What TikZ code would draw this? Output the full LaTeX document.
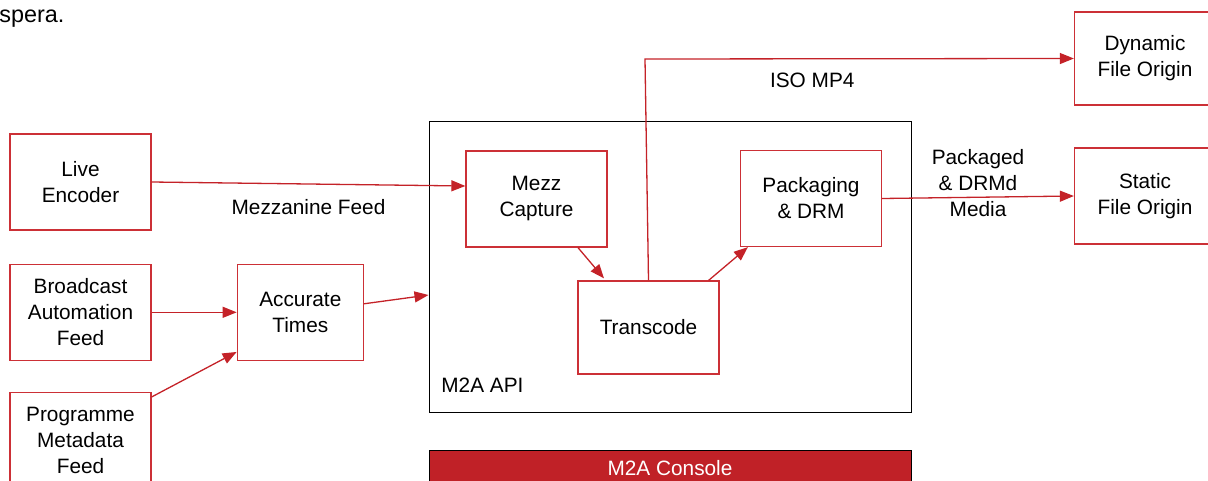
\documentclass[tikz,border=0pt]{standalone}
\usepackage{fontspec}
\setmainfont{Liberation Sans}
\usetikzlibrary{positioning,arrows.meta}

\definecolor{boxred}{RGB}{204,48,54}
\definecolor{linered}{RGB}{196,34,40}
\definecolor{consolered}{RGB}{192,33,39}

\begin{document}
\begin{tikzpicture}[x=0.5pt, y=-0.5pt, nodes = {align = center},
    font=\fontsize{10.4}{13}\selectfont,
    box/.style={draw=boxred, line width=0.65pt, minimum width=70.5pt, minimum height=48pt},
    flow/.style={draw=linered, line width=0.65pt, -{Triangle[length=7pt,width=5.5pt]}}]
    \useasboundingbox (0,0) rectangle (1208,481);

    \node (fragment) [anchor=base west, inner sep=0pt, font=\fontsize{11.7}{14}\selectfont] at (-1,23) {spera.};

    % sources on the left
    \node (live) [box] at (80.5,182) {Live\\Encoder};
    \node (broadcast) [box, below=16.5pt of live] {Broadcast\\Automation\\Feed};
    \node (programme) [box, below=15.5pt of broadcast] {Programme\\Metadata\\Feed};
    \node (accurate) [box, minimum width=63pt, right=42.5pt of broadcast] {Accurate\\Times};

    % M2A API
    \node (api) [draw=black, line width=0.5pt, minimum width=241pt, minimum height=145.5pt] at (670,266.5) {};
    \node (apilabel) [anchor=west, inner sep=0pt] at (441,385.5) {M2A API};
    \node (mezz) [box] at (536.5,199) {Mezz\\Capture};
    \node (transcode) [box, minimum height=46.5pt] at (648.5,327.5) {Transcode};
    \node (pack) [box] at (811,198.5) {Packaging\\\& DRM};
    \node (console) [draw=black, line width=0.5pt, fill=consolered, text=white, minimum width=241pt, minimum height=18pt, below=18.5pt of api] {M2A Console};

    % origins
    \node (dynamic) [box, minimum height=46.5pt] at (1145,58.5) {Dynamic\\File Origin};
    \node (static) [box] at (1145,196) {Static\\File Origin};
    \coordinate (isobend) at (645,59);

    \draw[flow] (live.east) -- node[below=4pt] {Mezzanine Feed} ([yshift=6.5pt]mezz.west);
    \draw[flow] (broadcast) -- (accurate);
    \draw[flow] ([yshift=-2.5pt]programme.north east) -- ([yshift=4.5pt]accurate.south west);
    \draw[flow] ([yshift=4.25pt]accurate.east) -- ([yshift=-14.25pt]api.west);
    \draw[flow] ([xshift=20.75pt]mezz.south) -- ([xshift=-22.25pt,yshift=1pt]transcode.north);
    \draw[flow] ([xshift=-5.5pt]transcode.north east) -- ([xshift=4pt]pack.south west);
    \draw[flow] (transcode.north) -- (isobend) -- node[below=3.25pt, pos=0.39] {ISO MP4} (dynamic.west);
    \draw[flow] (pack.east) -- node[yshift=7.25pt] {Packaged\\\& DRMd\\Media} (static.west);
\end{tikzpicture}
\end{document}
